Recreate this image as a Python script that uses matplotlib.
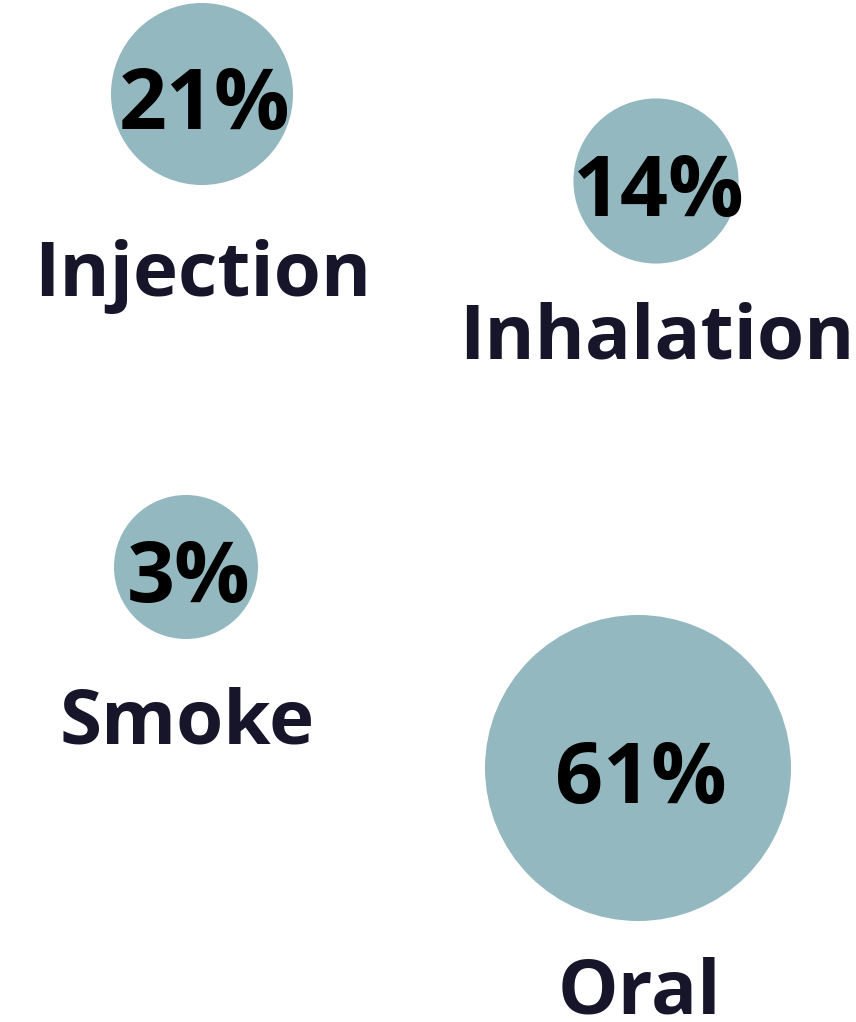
import numpy as np
import matplotlib.pyplot as plt
from matplotlib.patches import Circle

# Share of cases by route of administration
routes = ["Injection", "Inhalation", "Smoke", "Oral"]
shares = [21, 14, 3, 61]

# Bubble layout in pixel space (centre x, centre y, label baseline y)
centers_x = [202, 656, 186, 638]
centers_y = [94, 181, 567, 768]
label_y = [296, 358, 744, 1014]

bubble_color = "#94b8bf"
label_color = "#17152a"
font = "Open Sans"

# power scale from share to bubble radius (px)
r_min, r_max = 72, 153
p = 1.3
v = np.array(shares, dtype=float) ** p
radii = r_min + (v - v.min()) / (v.max() - v.min()) * (r_max - r_min)

fig = plt.figure(figsize=(8.56, 10.22), dpi=100)
ax = fig.add_axes([0, 0, 1, 1])
ax.set_xlim(0, 856)
ax.set_ylim(1022, 0)
ax.set_aspect("equal")
ax.axis("off")

for name, share, cx, cy, ly, r in zip(routes, shares, centers_x, centers_y, label_y, radii):
    ax.add_patch(Circle((cx, cy), r, facecolor=bubble_color, edgecolor="none"))
    ax.text(cx + 3, cy + 35, f"{share}%", ha="center", va="baseline",
            fontsize=60.5, fontweight="bold", family=font, color="black")
    ax.text(cx + 1, ly, name, ha="center", va="baseline",
            fontsize=55, fontweight="bold", family=font, color=label_color)

fig.savefig("out.png", dpi=100)
